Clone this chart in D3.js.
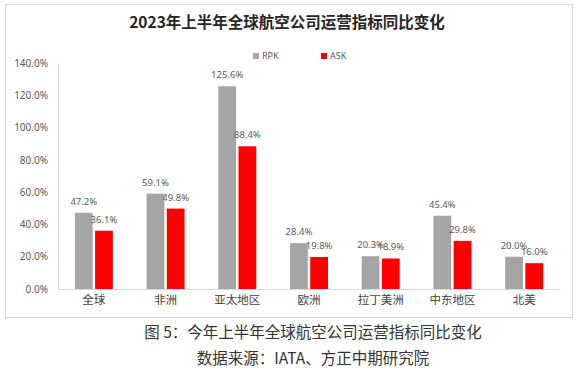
<!DOCTYPE html>
<html>
<head>
<meta charset="utf-8">
<script src="https://cdn.jsdelivr.net/npm/d3@7"></script>
<style>
  body { margin: 0; background: #fff; }
  svg text { font-family: "Noto Sans CJK SC", "Noto Sans", sans-serif; }
</style>
</head>
<body>
<div id="chart"></div>
<script>
// data
var regions = ["全球", "非洲", "亚太地区", "欧洲", "拉丁美洲", "中东地区", "北美"];
var rpk = [47.2, 59.1, 125.6, 28.4, 20.3, 45.4, 20.0];
var ask = [36.1, 49.8, 88.4, 19.8, 18.9, 29.8, 16.0];
var seriesNames = ["RPK", "ASK"];
var yTicks = [0, 20, 40, 60, 80, 100, 120, 140];

var colors = {RPK: "#a5a5a5", ASK: "#ff0000"};

var svg = d3.select("#chart").append("svg")
    .attr("width", 580)
    .attr("height", 375);

// frame of the chart area
svg.append("rect")
    .attr("x", 5.5).attr("y", 4.5)
    .attr("width", 567).attr("height", 313)
    .attr("fill", "none")
    .attr("stroke", "#d9d9d9");

svg.append("text")
    .attr("x", 287).attr("y", 28)
    .attr("text-anchor", "middle")
    .style("font-size", "15.5px")
    .style("font-weight", "bold")
    .style("fill", "#262626")
    .text("2023年上半年全球航空公司运营指标同比变化");

var x = d3.scaleBand()
    .domain(regions)
    .range([58, 560]);

var y = d3.scaleLinear()
    .domain([0, 140])
    .range([289, 63]);

var inner = d3.scaleBand()
    .domain(seriesNames)
    .range([-20, 20])
    .paddingInner(0.12)
    .paddingOuter(0.05);

// y axis
var yAxis = svg.append("g")
    .attr("transform", "translate(58,0)")
    .call(d3.axisLeft(y).tickValues(yTicks).tickSize(0).tickPadding(10)
        .tickFormat(function (d) { return d.toFixed(1) + "%"; }));
yAxis.select(".domain").attr("stroke", "#d9d9d9");
yAxis.selectAll("text")
    .style("font-size", "10px")
    .style("fill", "#595959")
    .style("font-family", "'Noto Sans', sans-serif");

// x axis
var xAxis = svg.append("g")
    .attr("transform", "translate(0,289)")
    .call(d3.axisBottom(x).tickSize(0).tickPadding(7));
xAxis.select(".domain").attr("stroke", "#d9d9d9");
xAxis.selectAll("text")
    .style("font-size", "11.5px")
    .style("fill", "#404040");

var rows = regions.map(function (r, i) {
    return {region: r, RPK: rpk[i], ASK: ask[i]};
});

var groups = svg.selectAll("g.group")
    .data(rows)
    .enter()
    .append("g")
    .attr("class", "group")
    .attr("transform", function (d) { return "translate(" + (x(d.region) + x.bandwidth() / 2) + ",0)"; });

groups.selectAll("rect")
    .data(function (d) { return seriesNames.map(function (k) { return {key: k, value: d[k]}; }); })
    .enter()
    .append("rect")
    .attr("x", function (d) { return inner(d.key); })
    .attr("y", function (d) { return y(d.value); })
    .attr("width", inner.bandwidth())
    .attr("height", function (d) { return y(0) - y(d.value); })
    .attr("fill", function (d) { return colors[d.key]; });

groups.selectAll("text.val")
    .data(function (d) { return seriesNames.map(function (k) { return {key: k, value: d[k]}; }); })
    .enter()
    .append("text")
    .attr("class", "val")
    .attr("x", function (d) { return inner(d.key) + inner.bandwidth() / 2; })
    .attr("y", function (d) { return y(d.value) - 8; })
    .attr("text-anchor", "middle")
    .style("font-size", "9.5px")
    .style("fill", "#595959")
    .style("font-family", "'Noto Sans', sans-serif")
    .text(function (d) { return d.value.toFixed(1) + "%"; });

// legend
var legend = svg.append("g")
    .selectAll("g")
    .data(seriesNames)
    .enter()
    .append("g")
    .attr("transform", function (d, i) { return "translate(" + (253 + i * 68) + ",53)"; });

legend.append("rect")
    .attr("width", 6).attr("height", 6)
    .attr("fill", function (d) { return colors[d]; });

legend.append("text")
    .attr("x", 9).attr("y", 6)
    .style("font-size", "9px")
    .style("fill", "#595959")
    .style("font-family", "'Noto Sans', sans-serif")
    .text(function (d) { return d; });

// caption below the chart
svg.append("text")
    .attr("x", 313).attr("y", 338)
    .attr("text-anchor", "middle")
    .style("font-size", "15.5px")
    .style("fill", "#333")
    .text("图 5：今年上半年全球航空公司运营指标同比变化");

svg.append("text")
    .attr("x", 313).attr("y", 364)
    .attr("text-anchor", "middle")
    .style("font-size", "15.5px")
    .style("fill", "#333")
    .text("数据来源：IATA、方正中期研究院");
</script>
</body>
</html>
